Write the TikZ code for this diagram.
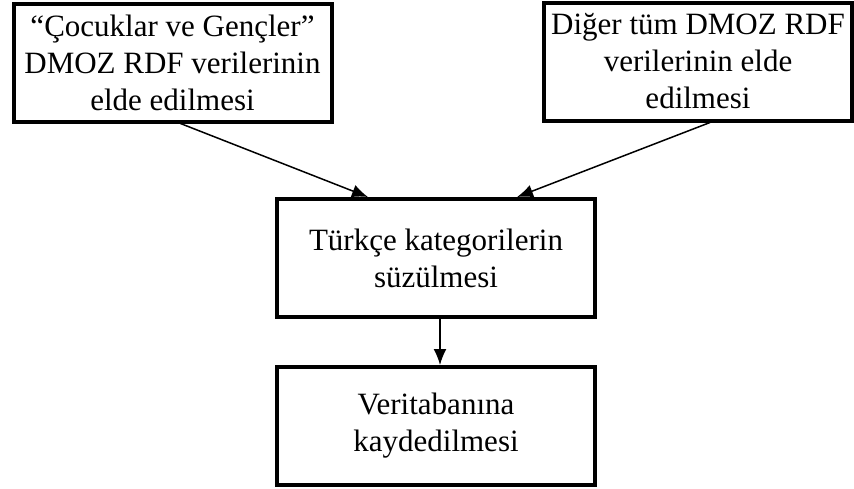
\documentclass[tikz,border=0pt]{standalone}
\usepackage{fontspec}
\setmainfont{Liberation Serif}
\usetikzlibrary{arrows.meta, positioning}

\begin{document}
\begin{tikzpicture}[
    x=1pt, y=1pt,
    stepbox/.style={rectangle, draw, line width=4pt, align=center, minimum width=318pt, minimum height=118pt, inner sep=2pt, font=\fontsize{31}{37}\selectfont},
    arrow/.style={-{Latex[length=16pt, width=13pt]}, line width=1.5pt}
]
\useasboundingbox (0,0) rectangle (854,-488);

% Row 1: data sources
\node[stepbox] (kids) at (172.5,-62.5) {“Çocuklar ve Gençler”\\DMOZ RDF verilerinin\\elde edilmesi};
\node[stepbox, minimum width=308pt] (others) at (698,-61.5) {Diğer tüm DMOZ RDF\\verilerinin elde\\edilmesi};

% Row 2: filtering
\node[stepbox] (filter) at (436,-258) {Türkçe kategorilerin\\süzülmesi};

% Row 3: saving
\node[stepbox, below=46pt of filter] (save) {Veritabanına\\kaydedilmesi};

% Arrows
\draw[arrow] ([xshift=8pt]kids.south) -- ([xshift=-68pt]filter.north);
\draw[arrow] ([xshift=12pt]others.south) -- ([xshift=81pt]filter.north);
\draw[arrow] ([xshift=4pt]filter.south) -- ([xshift=4pt]save.north);

\end{tikzpicture}
\end{document}
